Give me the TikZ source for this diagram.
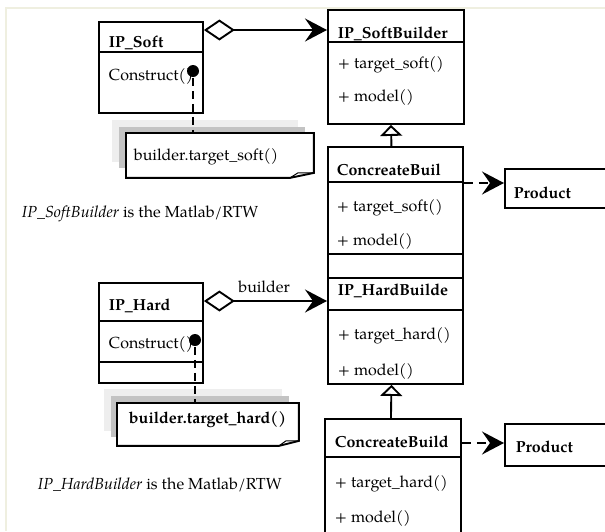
\documentclass[tikz,border=0pt]{standalone}
\usepackage{fontspec}
\setmainfont{TeX Gyre Pagella}
\usetikzlibrary{arrows.meta}
\definecolor{frame}{HTML}{EFEFE0}

\begin{document}
\begin{tikzpicture}[x=1pt, y=-1pt, line width=1.9pt,
  main/.style = {draw, rectangle, anchor=north west, inner sep=0pt},
  lbl/.style = {anchor=base west, inner sep=0pt, font=\fontsize{16}{19}\selectfont},
  bold/.style = {lbl, font=\fontsize{16}{19}\selectfont\bfseries},
  note/.style = {anchor=north west, inner sep=0pt},
  dot/.style = {circle, fill, inner sep=0pt, minimum size=12pt},
  agg/.style = {{Diamond[open,length=31pt,width=21pt]}-{Stealth[length=22pt,width=23pt,inset=8pt]}},
  inh/.style = {-{Triangle[open,length=11pt,width=22pt]}},
  dep/.style = {dash pattern=on 9pt off 6pt, -{Stealth[length=22pt,width=23pt,inset=8pt]}},
  link/.style = {line width=2pt, dash pattern=on 8pt off 5pt}]
\useasboundingbox (0,0) rectangle (605,531);
\clip (0,0) rectangle (605,531);
\draw[frame, line width=2pt] (605,8) -- (6,8) -- (6,531);

% soft part
\node[main, minimum width=104pt, minimum height=91pt] (1) at (98,21) {};
\draw ([yshift=-31pt]1.north west) -- ([yshift=-31pt]1.north east);
\node[bold] at (108,47) {IP\_Soft};
\node[lbl] at (108,80) {Construct()};
\node[dot] (d1) at (193,71) {};

\node[main, minimum width=136pt, minimum height=114pt] (2) at (327,9) {};
\draw ([yshift=-33pt]2.north west) -- ([yshift=-33pt]2.north east);
\node[bold] at (337,38) {IP\_SoftBuilder};
\node[lbl] at (337,68) {+ target\_soft()};
\node[lbl] at (337,101) {+ model()};

\node[main, minimum width=135pt, minimum height=131pt] (3) at (327,146) {};
\draw ([yshift=-36pt]3.north west) -- ([yshift=-36pt]3.north east);
\draw ([yshift=-108pt]3.north west) -- ([yshift=-108pt]3.north east);
\node[bold] at (336,175) {ConcreateBuil};
\node[lbl] at (336,211) {+ target\_soft()};
\node[lbl] at (336,245) {+ model()};

\node[main, minimum width=120pt, minimum height=39pt] (4) at (504,168) {};
\node[bold] at (513,198) {Product};

\fill[gray!13] (112,120) rectangle (298,162);
\fill[gray!47] (119,127) rectangle (305,168);
\node[note, minimum width=186pt, minimum height=43pt] (n1) at (126,133) {};
\draw[fill=white] (n1.north west) -- (n1.north east) -- ([yshift=5pt]n1.south east)
  -- ([xshift=-24pt]n1.south east) -- (n1.south west) -- cycle;
\draw[line width=1pt] ([xshift=-24pt]n1.south east) -- ([xshift=-16pt,yshift=5pt]n1.south east)
  -- ([yshift=5pt]n1.south east);
\node[lbl] at (133,160) {builder.target\_soft()};

\node[lbl] at (21,217) {\itshape IP\_SoftBuilder\/\upshape{} is the Matlab/RTW};

\draw[agg] ([yshift=-9pt]1.north east) -- ([yshift=-21pt]2.north west);
\draw[inh] ([xshift=-4pt]3.north) -- ([xshift=-5pt]2.south);
\draw[dep] ([yshift=-37pt]3.north east) -- ([yshift=-15pt]4.north west);
\draw[link] (d1) -- (d1 |- n1.north);

% hard part
\node[main, minimum width=104pt, minimum height=100pt] (5) at (98,282) {};
\draw ([yshift=-39pt]5.north west) -- ([yshift=-39pt]5.north east);
\draw ([yshift=-80pt]5.north west) -- ([yshift=-80pt]5.north east);
\node[bold] at (108,310) {IP\_Hard};
\node[lbl] at (108,348) {Construct()};
\node[dot] (d2) at (195,340) {};

\node[main, minimum width=135pt, minimum height=106pt] (6) at (327,277) {};
\draw ([yshift=-33pt]6.north west) -- ([yshift=-33pt]6.north east);
\node[bold] at (337,295) {IP\_HardBuilde};
\node[lbl] at (337,339) {+ target\_hard()};
\node[lbl] at (337,375) {+ model()};

\node[main, minimum width=136pt, minimum height=130pt] (7) at (324,418) {};
\draw ([yshift=-39pt]7.north west) -- ([yshift=-39pt]7.north east);
\node[bold] at (334,447) {ConcreateBuild};
\node[lbl] at (334,487) {+ target\_hard()};
\node[lbl] at (334,522) {+ model()};

\node[main, minimum width=120pt, minimum height=42pt] (8) at (504,423) {};
\node[bold] at (515,452) {Product};

\fill[gray!13] (104,389) rectangle (282,431);
\fill[gray!47] (111,396) rectangle (289,437);
\node[note, minimum width=180pt, minimum height=41pt] (n2) at (117,403) {};
\draw[fill=white] (n2.north west) -- (n2.north east) -- ([yshift=5pt]n2.south east)
  -- ([xshift=-20pt]n2.south east) -- (n2.south west) -- cycle;
\draw[line width=1pt] ([xshift=-20pt]n2.south east) -- ([xshift=-13pt,yshift=5pt]n2.south east)
  -- ([yshift=5pt]n2.south east);
\node[bold] at (128,423) {builder.target\_hard()};

\node[lbl] at (37,489) {\itshape IP\_HardBuilder\/\upshape{} is the Matlab/RTW};

\draw[agg] ([yshift=-19pt]5.north east) -- node[lbl, anchor=base west, xshift=-28pt, yshift=9pt] {builder} ([yshift=-24pt]6.north west);
\draw[inh] ([xshift=-2pt]7.north) -- ([xshift=-4pt]6.south);
\draw[dep] ([yshift=-25pt]7.north east) -- ([yshift=-20pt]8.north west);
\draw[link] (d2) -- (d2 |- n2.north);
\end{tikzpicture}
\end{document}
